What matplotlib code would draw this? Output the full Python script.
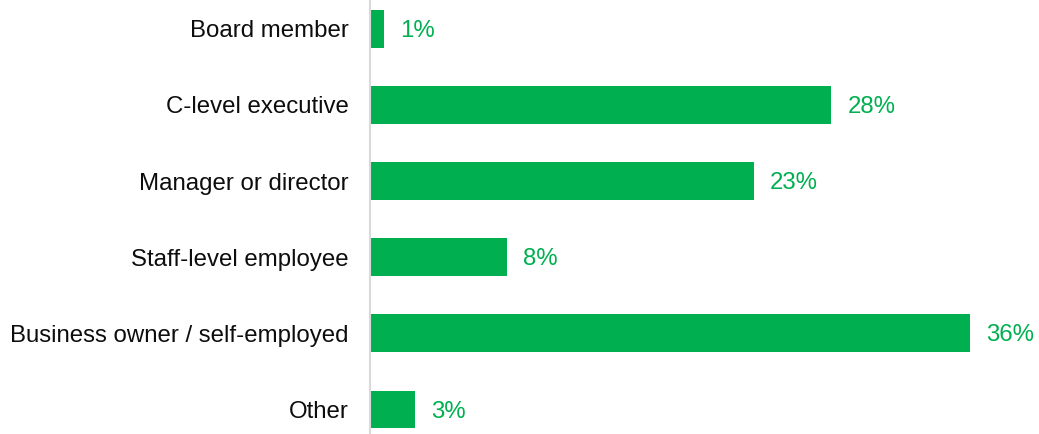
import matplotlib
matplotlib.use('Agg')
from matplotlib import pyplot as plt

roles = ['Board member', 'C-level executive', 'Manager or director',
         'Staff-level employee', 'Business owner / self-employed', 'Other']
shares = [0.86, 27.68, 23.04, 8.23, 36.0, 2.70]
share_labels = ['1%', '28%', '23%', '8%', '36%', '3%']

green = '#00B050'
plt.rcParams['font.family'] = ['Liberation Sans', 'DejaVu Sans']

fig = plt.figure(figsize=(10.39, 4.34), dpi=100)
ax = fig.add_axes([369.5/1039, 0, 1 - 369.5/1039, 1])

pos = list(range(len(roles)))
ax.barh(pos, shares, height=0.495, color=green)
for p, v, lab in zip(pos, shares, share_labels):
    ax.annotate(lab, (v, p), xytext=(12, -1.5), textcoords='offset points',
                va='center', ha='left', color=green, fontsize=17.3)

ax.set_yticks(pos)
ax.set_yticklabels(roles, fontsize=17.3, color='#0D0D0D')
ax.tick_params(axis='y', length=0, pad=15)
ax.set_xticks([])
ax.set_xlim(0, (1039 - 369.5) / (600 / 36.0))
ax.set_ylim(5.322, -0.378)

for s in ['top', 'right', 'bottom']:
    ax.spines[s].set_visible(False)
ax.spines['left'].set_color('#D9D9D9')
ax.spines['left'].set_linewidth(1.5)

fig.savefig('out.png', dpi=100)
